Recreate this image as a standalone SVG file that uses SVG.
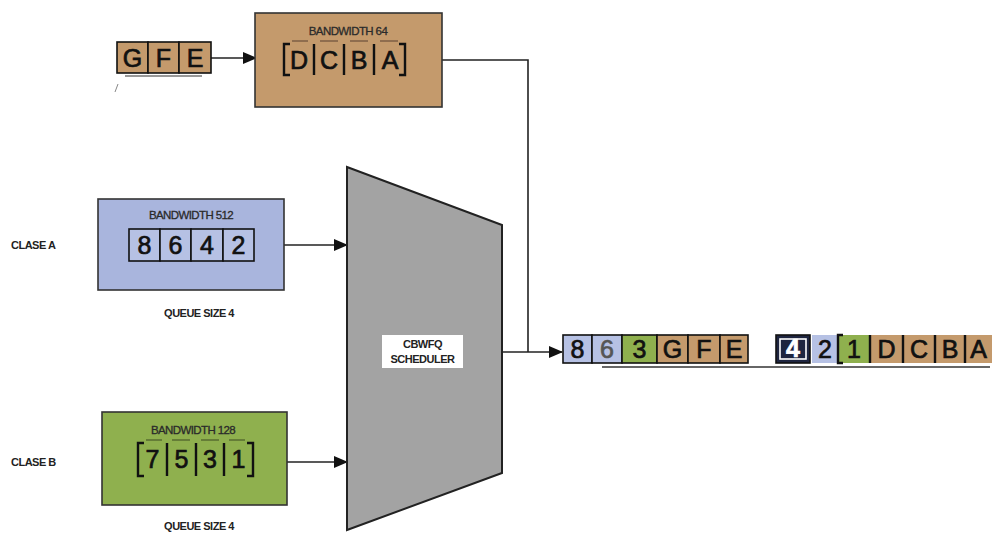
<svg xmlns="http://www.w3.org/2000/svg" width="992" height="536" viewBox="0 0 992 536">
  <defs>
    <marker id="arrow" markerWidth="14" markerHeight="12" refX="13" refY="6" orient="auto" markerUnits="userSpaceOnUse">
      <path d="M0,0 L14,6 L0,12 Z" fill="#111"/>
    </marker>
    <style>
      .lbl { font-family: "Liberation Sans", Arial, sans-serif; font-weight: bold; fill: #222; }
      .bw { font-family: "Liberation Sans", Arial, sans-serif; font-size: 11.5px; fill: #2a2a2a; stroke: #2a2a2a; stroke-width: 0.3; letter-spacing: -0.6px; }
      .pkt { font-family: "Liberation Sans", Arial, sans-serif; font-size: 25px; text-anchor: middle; stroke-width: 0.7; }
      .cell { stroke: #111; stroke-width: 1.6; }
      .brk { stroke: #111; stroke-width: 2.4; fill: none; }
      .brown { fill: #c49a6c; }
      .blue { fill: #a9b5dd; }
      .bluec { fill: #b6c1e4; }
      .green { fill: #8fb04e; }
      .conn { stroke: #222; stroke-width: 1.6; fill: none; }
    </style>
  </defs>

  <!-- connectors -->
  <g id="connectors">
    <line class="conn" x1="211" y1="58" x2="256" y2="58" marker-end="url(#arrow)"/>
    <polyline class="conn" points="442,60 528,60 528,352"/>
    <line class="conn" x1="284" y1="245" x2="347" y2="245" marker-end="url(#arrow)"/>
    <line class="conn" x1="287" y1="462" x2="347" y2="462" marker-end="url(#arrow)"/>
    <line class="conn" x1="502" y1="352" x2="562" y2="352" marker-end="url(#arrow)"/>
    <line x1="602" y1="367" x2="990" y2="367" stroke="#333" stroke-width="1.6"/>
  </g>

  <!-- incoming packets waiting -->
  <g id="incoming" fill="#111" stroke="#111">
    <rect class="brown cell" x="117" y="42" width="31" height="31"/>
    <rect class="brown cell" x="148" y="42" width="31" height="31"/>
    <rect class="brown cell" x="179" y="42" width="32" height="31"/>
    <text class="pkt" x="132.5" y="67">G</text>
    <text class="pkt" x="163.5" y="67">F</text>
    <text class="pkt" x="195" y="67">E</text>
    <line x1="125" y1="76" x2="202" y2="76" stroke="#333" stroke-width="1.2"/>
    <line x1="118" y1="84" x2="115" y2="92" stroke="#888" stroke-width="1"/>
  </g>

  <!-- queue with bandwidth 64 -->
  <g id="queue-64" fill="#111" stroke="#111">
    <rect class="brown" x="255" y="13" width="187" height="94" stroke="#333" stroke-width="1.6"/>
    <text class="bw" x="348" y="35" text-anchor="middle">BANDWIDTH 64</text>
    <rect class="brown" x="284" y="44" width="121" height="31" stroke="none"/>
    <path class="brk" d="M290,44 H284 V75 H290 M399,44 H405 V75 H399 M314,44 V75 M344,44 V75 M374,44 V75"/>
    <path d="M292,41 H308 M320,41 H338 M350,41 H368 M380,41 H398" stroke="#5a4030" stroke-width="1.2"/>
    <text class="pkt" x="299" y="69">D</text>
    <text class="pkt" x="329" y="69">C</text>
    <text class="pkt" x="359" y="69">B</text>
    <text class="pkt" x="390" y="69">A</text>
  </g>

  <!-- class A queue -->
  <g id="clase-a" fill="#111" stroke="#111">
    <text class="lbl" x="11" y="249" font-size="11" letter-spacing="-0.5" stroke="none">CLASE A</text>
    <rect class="blue" x="98" y="199" width="186" height="91" stroke="#333" stroke-width="1.6"/>
    <text class="bw" x="191" y="219" text-anchor="middle">BANDWIDTH 512</text>
    <rect class="bluec cell" x="129" y="229" width="31" height="32"/>
    <rect class="bluec cell" x="160" y="229" width="31" height="32"/>
    <rect class="bluec cell" x="191" y="229" width="32" height="32"/>
    <rect class="bluec cell" x="223" y="229" width="31" height="32"/>
    <text class="pkt" x="144.5" y="254">8</text>
    <text class="pkt" x="175.5" y="254">6</text>
    <text class="pkt" x="207" y="254">4</text>
    <text class="pkt" x="238.5" y="254">2</text>
    <text class="lbl" x="199" y="317" font-size="11" text-anchor="middle" letter-spacing="-0.5" stroke="none">QUEUE SIZE 4</text>
  </g>

  <!-- class B queue -->
  <g id="clase-b" fill="#111" stroke="#111">
    <text class="lbl" x="11" y="466" font-size="11" letter-spacing="-0.5" stroke="none">CLASE B</text>
    <rect class="green" x="102" y="412" width="185" height="93" stroke="#333" stroke-width="1.6"/>
    <text class="bw" x="193" y="434" text-anchor="middle">BANDWIDTH 128</text>
    <rect class="green" x="138" y="443" width="115" height="33" stroke="none"/>
    <path class="brk" d="M144,443 H138 V476 H144 M247,443 H253 V476 H247 M167,443 V476 M196,443 V476 M224,443 V476"/>
    <path d="M146,440 H162 M172,440 H190 M201,440 H219 M229,440 H245" stroke="#3d4a20" stroke-width="1.2"/>
    <text class="pkt" x="152.5" y="468">7</text>
    <text class="pkt" x="181.5" y="468">5</text>
    <text class="pkt" x="210" y="468">3</text>
    <text class="pkt" x="238.5" y="468">1</text>
    <text class="lbl" x="199" y="530" font-size="11" text-anchor="middle" letter-spacing="-0.5" stroke="none">QUEUE SIZE 4</text>
  </g>

  <!-- scheduler -->
  <g id="scheduler">
    <polygon points="347,167 502,225 502,473 347,530" fill="#a3a3a3" stroke="#222" stroke-width="2"/>
    <rect x="382" y="335" width="81" height="33" fill="#fff"/>
    <text class="lbl" x="422.5" y="348" font-size="11" text-anchor="middle" letter-spacing="-0.5">CBWFQ</text>
    <text class="lbl" x="422.5" y="363" font-size="11" text-anchor="middle" letter-spacing="-0.5">SCHEDULER</text>
  </g>

  <!-- output order -->
  <g id="output" fill="#111" stroke="#111">
    <rect class="bluec cell" x="563" y="335" width="29" height="28"/>
    <rect class="bluec cell" x="592" y="335" width="30" height="28"/>
    <rect class="green cell" x="622" y="335" width="35" height="28"/>
    <rect class="brown cell" x="657" y="335" width="31" height="28"/>
    <rect class="brown cell" x="688" y="335" width="32" height="28"/>
    <rect class="brown cell" x="720" y="335" width="28" height="28"/>
    <text class="pkt" x="577.5" y="358">8</text>
    <text class="pkt" x="607" y="358" fill="#555" stroke="#555">6</text>
    <text class="pkt" x="639.5" y="358">3</text>
    <text class="pkt" x="672.5" y="358">G</text>
    <text class="pkt" x="704" y="358">F</text>
    <text class="pkt" x="734" y="358">E</text>

    <rect x="776" y="335" width="34" height="28" fill="#1e2540" stroke="#111" stroke-width="1.6"/>
    <rect x="780" y="339" width="26" height="20" fill="none" stroke="#fff" stroke-width="1.6"/>
    <text class="pkt" x="793" y="357" font-size="20" fill="#fff" stroke="#fff" font-weight="bold">4</text>
    <rect class="bluec" x="812" y="335" width="26" height="28" stroke="none"/>
    <rect class="green" x="838" y="335" width="32" height="28" stroke="none"/>
    <rect class="brown" x="870" y="335" width="122" height="28" stroke="none"/>
    <path class="brk" d="M843,335 H838 V363 H843 M870,335 V363 M903,335 V363 M935,335 V363 M965,335 V363"/>
    <text class="pkt" x="825" y="358">2</text>
    <text class="pkt" x="854" y="358">1</text>
    <text class="pkt" x="886.5" y="358">D</text>
    <text class="pkt" x="919" y="358">C</text>
    <text class="pkt" x="950" y="358">B</text>
    <text class="pkt" x="978.5" y="358">A</text>
  </g>
</svg>
